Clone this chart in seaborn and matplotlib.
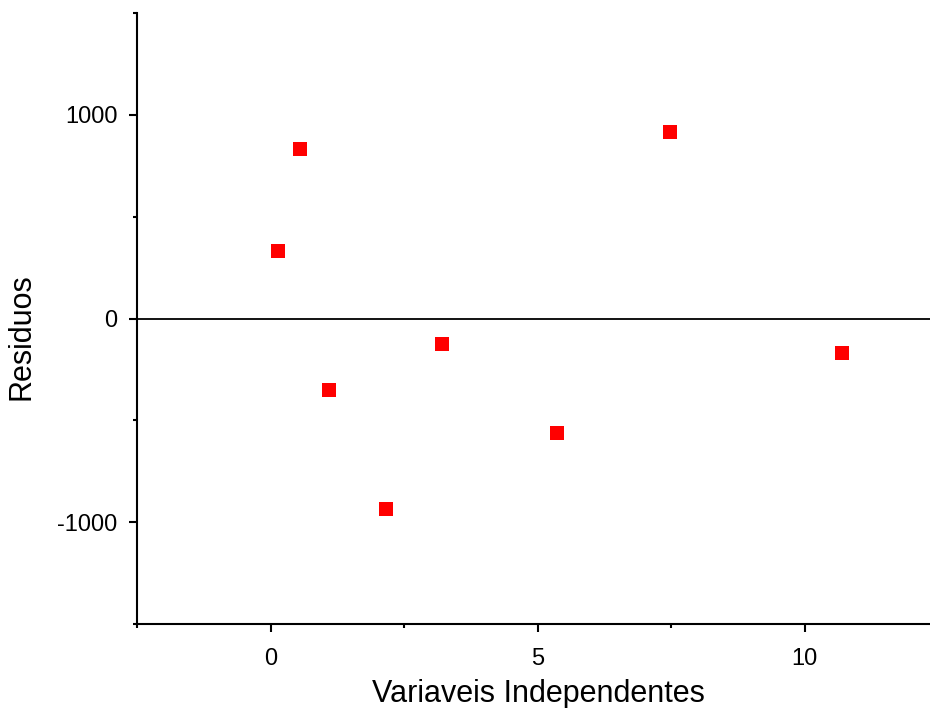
import matplotlib
matplotlib.use("Agg")
import matplotlib.pyplot as plt
import seaborn as sns
import pandas as pd
from matplotlib.ticker import MultipleLocator

x_vals = [0.14, 0.56, 1.09, 2.16, 3.22, 5.36, 7.49, 10.71]
residuals = [330, 833, -349, -935, -123, -561, 915, -167]
x_ticks = [0, 5, 10]
y_ticks = [-1000, 0, 1000]

df = pd.DataFrame({"x": x_vals, "r": residuals})

sns.set_style("ticks")
plt.rcParams['font.family'] = ['Liberation Sans', 'DejaVu Sans']
plt.rcParams['axes.unicode_minus'] = False
plt.rcParams['text.color'] = 'black'
plt.rcParams['axes.labelcolor'] = 'black'

fig = plt.figure(figsize=(9.3, 7.08), dpi=100)
ax = fig.add_axes([137/930, 1-624/708, 1-137/930, (624-13)/708])

ax.axhline(0, color="black", lw=1.3, zorder=1)
sns.scatterplot(data=df, x="x", y="r", marker="s", s=105, color="#ff0000",
                edgecolor="#ff0000", linewidth=0, ax=ax, zorder=3)

ax.set_xlim(-2.5, 12.35)
ax.set_ylim(-1500, 1500)
ax.set_xticks(x_ticks)
ax.set_yticks(y_ticks)
ax.xaxis.set_minor_locator(MultipleLocator(2.5))
ax.yaxis.set_minor_locator(MultipleLocator(500))

for s in ["top", "right"]:
    ax.spines[s].set_visible(False)
for s in ["left", "bottom"]:
    ax.spines[s].set_linewidth(1.5)
    ax.spines[s].set_color("black")

ax.tick_params(which="major", direction="out", length=6, width=1.5, labelsize=17, pad=8,
               colors="black", labelcolor="black")
ax.tick_params(axis="x", which="major", pad=11)
ax.tick_params(which="minor", direction="out", length=3, width=1.5, colors="black")

ax.set_xlabel("Variaveis Independentes", fontsize=22, labelpad=7)
ax.set_ylabel("Residuos", fontsize=22, labelpad=15)
ax.yaxis.label.set_y((624 - 337) / 611)
ax.xaxis.label.set_x((538 - 137) / 793)

fig.savefig("out.png", dpi=100)
